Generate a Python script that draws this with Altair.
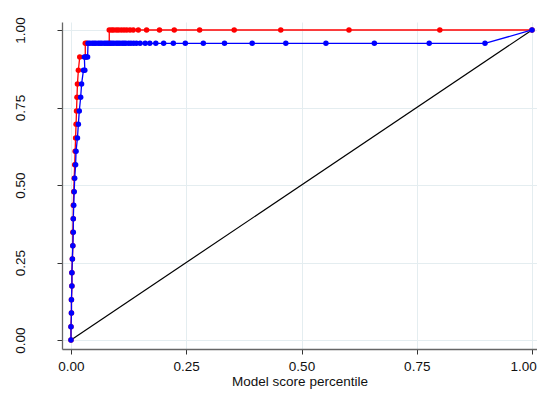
import altair as alt
import pandas as pd

# ---- data ----
red_x = [0.000, 0.000, 0.001, 0.001, 0.002, 0.002, 0.003, 0.004, 0.004, 0.005,
         0.005, 0.006, 0.007, 0.008, 0.009, 0.010, 0.011, 0.012, 0.013, 0.014,
         0.016, 0.019, 0.031, 0.031, 0.034, 0.083,
         0.083, 0.088, 0.092, 0.098, 0.103, 0.109, 0.115, 0.121, 0.128, 0.135,
         0.146, 0.164, 0.192, 0.224, 0.279, 0.354, 0.455, 0.603, 0.800, 1.000]
red_y = [0.000, 0.043, 0.087, 0.130, 0.174, 0.217, 0.261, 0.304, 0.348, 0.391,
         0.435, 0.478, 0.522, 0.565, 0.609, 0.652, 0.696, 0.739, 0.783, 0.826,
         0.870, 0.913, 0.913, 0.957, 0.957, 0.957,
         1.000, 1.000, 1.000, 1.000, 1.000, 1.000, 1.000, 1.000, 1.000, 1.000,
         1.000, 1.000, 1.000, 1.000, 1.000, 1.000, 1.000, 1.000, 1.000, 1.000]

blue_x = [0.000, 0.000, 0.001, 0.001, 0.002, 0.002, 0.003, 0.004, 0.005, 0.005,
          0.006, 0.007, 0.008, 0.010, 0.011, 0.014, 0.016, 0.018, 0.021, 0.023,
          0.027, 0.030, 0.029, 0.033, 0.036,
          0.037, 0.041, 0.046, 0.050, 0.054, 0.059, 0.063, 0.067, 0.072, 0.076,
          0.080, 0.085, 0.089, 0.093, 0.098, 0.102, 0.106, 0.111, 0.115, 0.119,
          0.125, 0.130, 0.136, 0.142, 0.150, 0.161, 0.171, 0.184, 0.201, 0.222,
          0.248, 0.287, 0.333, 0.393, 0.466, 0.553, 0.658, 0.777, 0.898, 1.000]
blue_y = [0.000, 0.043, 0.087, 0.130, 0.174, 0.217, 0.261, 0.304, 0.348, 0.391,
          0.435, 0.478, 0.522, 0.565, 0.609, 0.652, 0.696, 0.739, 0.783, 0.826,
          0.870, 0.870, 0.913, 0.913, 0.913,
          0.957, 0.957, 0.957, 0.957, 0.957, 0.957, 0.957, 0.957, 0.957, 0.957,
          0.957, 0.957, 0.957, 0.957, 0.957, 0.957, 0.957, 0.957, 0.957, 0.957,
          0.957, 0.957, 0.957, 0.957, 0.957, 0.957, 0.957, 0.957, 0.957, 0.957,
          0.957, 0.957, 0.957, 0.957, 0.957, 0.957, 0.957, 0.957, 0.957, 1.000]

diag_x = [0.0, 1.0]
diag_y = [0.0, 1.0]

tick_values = [0.0, 0.25, 0.5, 0.75, 1.0]
x_title = "Model score percentile"


def frame(xs, ys):
    return pd.DataFrame({"x": xs, "y": ys, "i": list(range(len(xs)))})


FONT = "Liberation Sans"
GRID = "#e4edf0"

xscale = alt.Scale(domain=[-0.0195, 1.0108], nice=False, zero=False)
yscale = alt.Scale(domain=[-0.029, 1.0258], nice=False, zero=False)

xaxis = alt.Axis(values=tick_values, format=".2f", title=x_title, grid=True,
                 gridColor=GRID, gridWidth=1, tickSize=5, tickColor="#333333",
                 domainColor="#666666", domainWidth=1.3, labelPadding=5,
                 labelOffset={"condition": {"test": "datum.value >= 1", "value": -9},
                              "value": 0},
                 labelFont=FONT, labelFontSize=13.5, labelColor="#111111",
                 titleFont=FONT, titleFontSize=13.5, titleColor="#111111",
                 titleFontWeight="normal", titlePadding=2, labelFlush=False)
yaxis = alt.Axis(values=tick_values, format=".2f", title=None, grid=True,
                 gridColor=GRID, gridWidth=1, tickSize=5, tickColor="#333333",
                 domainColor="#666666", domainWidth=1.3, labelAngle=270,
                 labelAlign="center", labelBaseline="bottom", labelPadding=30,
                 labelFont=FONT, labelFontSize=13.5, labelColor="#111111",
                 labelFlush=False)


def enc(chart):
    return chart.encode(
        x=alt.X("x:Q", scale=xscale, axis=xaxis),
        y=alt.Y("y:Q", scale=yscale, axis=yaxis),
        order=alt.Order("i:Q"),
    )


diag = enc(alt.Chart(frame(diag_x, diag_y)).mark_line(color="black", strokeWidth=1.2))
red = enc(alt.Chart(frame(red_x, red_y)).mark_line(
    color="#ff0000", strokeWidth=1.3,
    point=alt.OverlayMarkDef(filled=True, size=30, color="#ff0000")))
blue = enc(alt.Chart(frame(blue_x, blue_y)).mark_line(
    color="#0000ff", strokeWidth=1.3,
    point=alt.OverlayMarkDef(filled=True, size=30, color="#0000ff")))

chart = alt.layer(diag, red, blue).properties(
    width=475, height=327,
    autosize=alt.AutoSizeParams(type="none"),
    padding={"left": 54, "top": 14, "right": 0, "bottom": 40},
    background="white",
).configure_view(stroke=None)

chart.save("out.html", embed_options={"renderer": "svg", "actions": False})
